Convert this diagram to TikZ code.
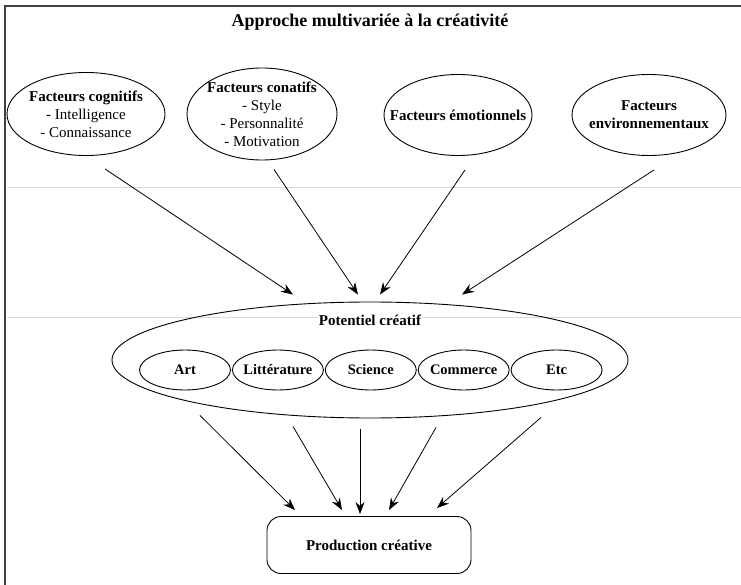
\documentclass[tikz,border=0pt]{standalone}
\usepackage{fontspec}
\setmainfont{Liberation Serif}
\usetikzlibrary{
    shapes.geometric,
    positioning,
    arrows.meta,
}
\tikzstyle{factor} = [ellipse, draw, line width=0.9pt, align=center,
    inner xsep=-25pt, inner ysep=-5pt, font=\fontsize{15}{18}\selectfont]
\tikzstyle{sector} = [ellipse, draw, line width=0.9pt, minimum width=91pt,
    minimum height=40pt, inner xsep=-8pt, inner ysep=0pt,
    font=\bfseries\fontsize{14.5}{16}\selectfont]
\tikzstyle{result} = [rectangle, draw, rounded corners=14pt, line width=0.9pt,
    minimum width=204pt, minimum height=57pt, font=\bfseries\fontsize{15}{17}\selectfont]
\tikzstyle{line} = [draw, line width=0.8pt, -{Stealth[length=12pt,width=9pt]}]
\tikzstyle{scanline} = [draw, gray!30, line width=0.8pt]

\begin{document}
\begin{tikzpicture}[x=1pt, y=-1pt]
    \useasboundingbox (0,0) rectangle (741,585);
    % Frame and faint rules
    \draw [darkgray, line width=2pt] (5,585) -- (5,6) -- (741,6);
    \path [scanline] (7,187) -- (741,187);
    \path [scanline] (7,317) -- (741,317);
    % Place nodes
    \node [font=\bfseries\fontsize{18}{20}\selectfont] (title) at (370,22)
        {Approche multivariée à la créativité};
    \node [factor, minimum width=158pt, minimum height=83pt] (cog) at (86,114)
        {\textbf{Facteurs cognitifs}\\- Intelligence\\- Connaissance};
    \node [factor, minimum width=150pt, minimum height=92pt] (con) at (262,114)
        {\textbf{Facteurs conatifs}\\- Style\\- Personnalité\\- Motivation};
    \node [factor, minimum width=148pt, minimum height=81pt] (emo) at (458,115)
        {\textbf{Facteurs émotionnels}};
    \node [factor, minimum width=154pt, minimum height=81pt] (env) at (649,115)
        {\textbf{Facteurs}\\\textbf{environnementaux}};
    \node [factor, minimum width=516pt, minimum height=116pt] (pot) at (370,360) {};
    \node [fill=white, inner sep=1pt, font=\bfseries\fontsize{15}{17}\selectfont]
        (potlabel) at (370,320) {Potentiel créatif};
    \node [sector] (art) at (185,370) {Art};
    \node [sector, right=1pt of art] (lit) {Littérature};
    \node [sector, right=1pt of lit] (sci) {Science};
    \node [sector, right=1pt of sci] (com) {Commerce};
    \node [sector, right=1pt of com] (etc) {Etc};
    \node [result] (prod) at (369,545) {Production créative};
    % Draw edges
    \path [line] ([xshift=19pt,yshift=-13pt]cog.south) -- ([xshift=-77pt,yshift=7pt]pot.north);
    \path [line] ([xshift=12pt,yshift=-9pt]con.south) -- ([xshift=-12pt,yshift=7pt]pot.north);
    \path [line] ([xshift=7pt,yshift=-14pt]emo.south) -- ([xshift=10pt,yshift=7pt]pot.north);
    \path [line] ([xshift=5pt,yshift=-14pt]env.south) -- ([xshift=92pt,yshift=7pt]pot.north);
    \path [line] ([xshift=-170pt,yshift=3pt]pot.south) -- ([xshift=-74pt,yshift=6pt]prod.north);
    \path [line] ([xshift=-77pt,yshift=-8pt]pot.south) -- ([xshift=-27pt,yshift=6pt]prod.north);
    \path [line] ([xshift=-10pt,yshift=-11pt]pot.south) -- ([xshift=-9pt,yshift=2pt]prod.north);
    \path [line] ([xshift=66pt,yshift=-9pt]pot.south) -- ([xshift=20pt,yshift=6pt]prod.north);
    \path [line] ([xshift=171pt,yshift=1pt]pot.south) -- ([xshift=68pt,yshift=8pt]prod.north);
\end{tikzpicture}
\end{document}
